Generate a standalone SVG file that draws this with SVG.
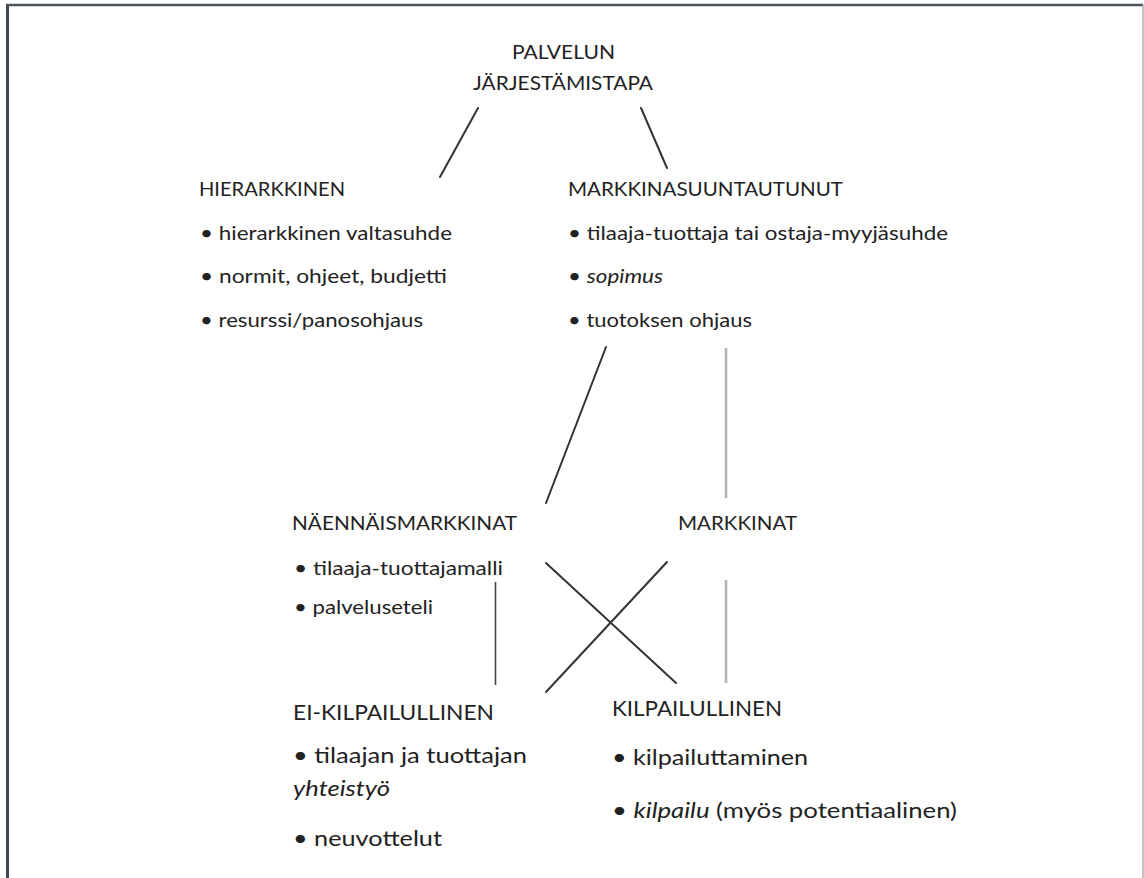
<svg xmlns="http://www.w3.org/2000/svg" width="1144" height="878" viewBox="0 0 1144 878">
<style>
  text { font-family: Lato, "Open Sans", "Liberation Sans", sans-serif; fill: #222; }
  .up { font-size: 19px; }
  .lo { font-size: 22px; }
  .it { font-style: italic; }
  .dk { stroke: #333; stroke-width: 2; fill: none; stroke-linecap: round; }
  .md { stroke: #444; stroke-width: 1.6; fill: none; }
  .gy { stroke: #b3b3b3; stroke-width: 2.6; fill: none; }
</style>
<rect width="1144" height="878" fill="#fff"/>
<g id="frame">
  <line x1="7.5" y1="4" x2="7.5" y2="878" stroke="#3e4a50" stroke-width="3"/>
  <line x1="6" y1="5" x2="1143" y2="5" stroke="#4a565c" stroke-width="2.6"/>
  <line x1="1143" y1="5" x2="1143" y2="878" stroke="#999" stroke-width="1.2"/>
</g>
<g id="connectors">
  <line class="dk" x1="478" y1="108" x2="440" y2="177"/>
  <line class="dk" x1="641" y1="108" x2="667" y2="168"/>
  <line class="dk" x1="606" y1="347" x2="546" y2="503"/>
  <line class="gy" x1="726" y1="348" x2="726" y2="498"/>
  <line class="dk" x1="546" y1="563" x2="676" y2="683"/>
  <line class="dk" x1="667" y1="562" x2="546" y2="692"/>
  <line class="md" x1="495.5" y1="582" x2="495.5" y2="685"/>
  <line class="gy" x1="726" y1="580" x2="726" y2="683"/>
</g>
<g id="palvelun-jarjestamistapa">
  <text class="up" x="512" y="59" textLength="103" lengthAdjust="spacingAndGlyphs">PALVELUN</text>
  <text class="up" x="473" y="90" textLength="180" lengthAdjust="spacingAndGlyphs">JÄRJESTÄMISTAPA</text>
</g>
<g id="hierarkkinen">
  <text class="up" x="199" y="196" textLength="146" lengthAdjust="spacingAndGlyphs">HIERARKKINEN</text>
  <text class="up" x="200" y="240" textLength="252" lengthAdjust="spacingAndGlyphs">• hierarkkinen valtasuhde</text>
  <text class="up" x="200" y="283" textLength="247" lengthAdjust="spacingAndGlyphs">• normit, ohjeet, budjetti</text>
  <text class="up" x="200" y="327" textLength="223" lengthAdjust="spacingAndGlyphs">• resurssi/panosohjaus</text>
</g>
<g id="markkinasuuntautunut">
  <text class="up" x="568" y="196" textLength="275" lengthAdjust="spacingAndGlyphs">MARKKINASUUNTAUTUNUT</text>
  <text class="up" x="568" y="240" textLength="380" lengthAdjust="spacingAndGlyphs">• tilaaja-tuottaja tai ostaja-myyjäsuhde</text>
  <text class="up" x="568" y="283" textLength="95" lengthAdjust="spacingAndGlyphs">• <tspan class="it">sopimus</tspan></text>
  <text class="up" x="568" y="327" textLength="184" lengthAdjust="spacingAndGlyphs">• tuotoksen ohjaus</text>
</g>
<g id="naennaismarkkinat">
  <text class="up" x="292" y="530" textLength="225" lengthAdjust="spacingAndGlyphs">NÄENNÄISMARKKINAT</text>
  <text class="up" x="294" y="575" textLength="209" lengthAdjust="spacingAndGlyphs">• tilaaja-tuottajamalli</text>
  <text class="up" x="294" y="614" textLength="139" lengthAdjust="spacingAndGlyphs">• palveluseteli</text>
</g>
<g id="markkinat">
  <text class="up" x="678" y="530" textLength="119" lengthAdjust="spacingAndGlyphs">MARKKINAT</text>
</g>
<g id="ei-kilpailullinen">
  <text class="lo" x="293" y="720" textLength="201" lengthAdjust="spacingAndGlyphs">EI-KILPAILULLINEN</text>
  <text class="lo" x="293" y="763" textLength="234" lengthAdjust="spacingAndGlyphs">• tilaajan ja tuottajan</text>
  <text class="lo it" x="293" y="796" textLength="97" lengthAdjust="spacingAndGlyphs">yhteistyö</text>
  <text class="lo" x="293" y="846" textLength="149" lengthAdjust="spacingAndGlyphs">• neuvottelut</text>
</g>
<g id="kilpailullinen">
  <text class="lo" x="612" y="716" textLength="170" lengthAdjust="spacingAndGlyphs">KILPAILULLINEN</text>
  <text class="lo" x="612" y="765" textLength="196" lengthAdjust="spacingAndGlyphs">• kilpailuttaminen</text>
  <text class="lo" x="612" y="818" textLength="345" lengthAdjust="spacingAndGlyphs">• <tspan class="it">kilpailu</tspan> (myös potentiaalinen)</text>
</g>
</svg>
